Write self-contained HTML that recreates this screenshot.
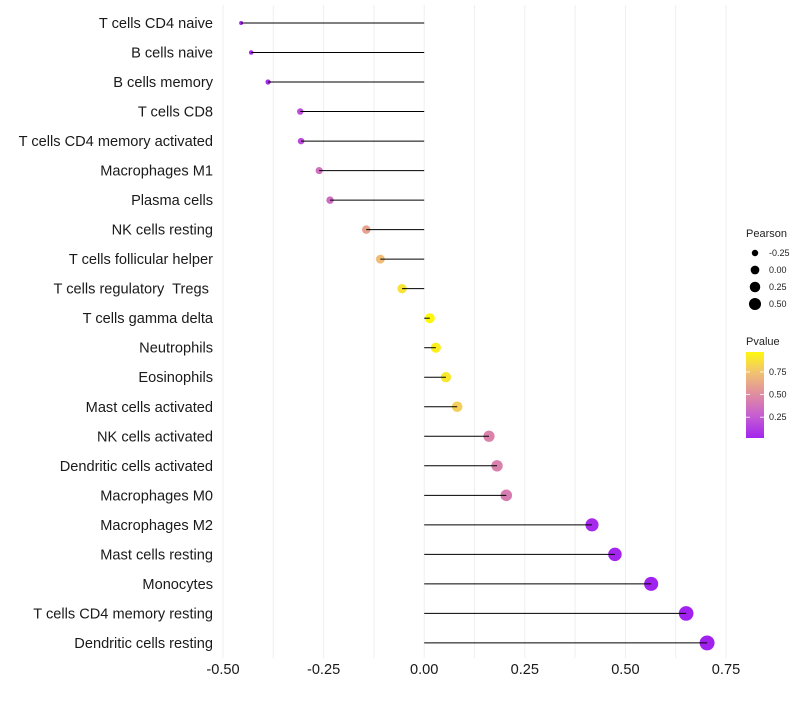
<!DOCTYPE html>
<html><head><meta charset="utf-8"><style>
body{margin:0;background:#fff;font-family:"Liberation Sans",sans-serif}
text{white-space:pre}
</style></head><body>
<svg id="chart" width="800" height="700" xmlns="http://www.w3.org/2000/svg" font-family="Liberation Sans, sans-serif">
<g id="grid"></g>
<g id="ylabels"></g>
<g id="dots"></g>
<g id="segs"></g>
<g id="xlabels"></g>
<g id="legend"></g>
</svg>
<script>
const categories=["T cells CD4 naive","B cells naive","B cells memory","T cells CD8","T cells CD4 memory activated","Macrophages M1","Plasma cells","NK cells resting","T cells follicular helper","T cells regulatory  Tregs ","T cells gamma delta","Neutrophils","Eosinophils","Mast cells activated","NK cells activated","Dendritic cells activated","Macrophages M0","Macrophages M2","Mast cells resting","Monocytes","T cells CD4 memory resting","Dendritic cells resting"];
const pearson=[-0.455,-0.43,-0.388,-0.308,-0.306,-0.261,-0.234,-0.144,-0.109,-0.055,0.014,0.029,0.054,0.082,0.161,0.181,0.204,0.417,0.474,0.564,0.651,0.703];
const pvalue=[0.03,0.04,0.06,0.2,0.19,0.36,0.34,0.6,0.72,0.88,0.97,0.93,0.9,0.8,0.45,0.44,0.42,0.04,0.02,0.01,0.01,0.01];
const xTicks=[-0.5,-0.25,0,0.25,0.5,0.75];
const xTickLabels=["-0.50","-0.25","0.00","0.25","0.50","0.75"];
const sizeLegend=[-0.25,0,0.25,0.5];
const sizeLegendLabels=["-0.25","0.00","0.25","0.50"];
const colorTicks=[0.25,0.5,0.75];
const colorTickLabels=["0.25","0.50","0.75"];

const NS="http://www.w3.org/2000/svg";
const x=v=>424.2+v*402.4;
const y=i=>23+i*29.52;
const r=v=>Math.sqrt(Math.max(1,24.4+44.9*v));
const stops=[[0,[160,32,240]],[0.25,[196,90,212]],[0.5,[224,140,160]],[0.75,[241,196,112]],[1,[255,255,0]]];
function col(p){for(let k=1;k<stops.length;k++){if(p<=stops[k][0]){const a=stops[k-1],b=stops[k],t=(p-a[0])/(b[0]-a[0]);return "rgb("+a[1].map((c,j)=>Math.round(c+(b[1][j]-c)*t)).join(",")+")";}}return "rgb(255,255,0)";}
function mk(tag,attrs,parent){const e=document.createElementNS(NS,tag);for(const k in attrs)e.setAttribute(k,attrs[k]);parent.appendChild(e);return e;}
const grid=document.getElementById('grid'),yl=document.getElementById('ylabels'),dots=document.getElementById('dots'),segs=document.getElementById('segs'),xl=document.getElementById('xlabels'),lg=document.getElementById('legend');
for(let v=-0.5;v<=0.751;v+=0.125){const l=mk('line',{x1:x(v),x2:x(v),y1:5,y2:658,stroke:'#efefef','stroke-width':1},grid);

}
categories.forEach((c,i)=>{
 const t=mk('text',{x:213,y:y(i)+5,'text-anchor':'end','font-size':14.6,fill:'#1a1a1a'},yl);t.textContent=c;
 
 
 const d=mk('circle',{cx:x(pearson[i]),cy:y(i),r:r(pearson[i]),fill:col(pvalue[i])},dots);
 
 
 const s=mk('line',{x1:x(0),x2:x(pearson[i]),y1:y(i),y2:y(i),stroke:'#000','stroke-width':1},segs);
 
 
});
xTicks.forEach((v,i)=>{const t=mk('text',{x:x(v),y:674,'text-anchor':'middle','font-size':14.6,fill:'#1a1a1a'},xl);t.textContent=xTickLabels[i];

});
let t=mk('text',{x:746,y:237,'font-size':11,fill:'#222'},lg);t.textContent="Pearson";


sizeLegend.forEach((v,i)=>{const cy=253+i*17;
 const c=mk('circle',{cx:755,cy:cy,r:r(v)*0.88,fill:'#000'},lg);
 
 
 const tt=mk('text',{x:769,y:cy+3,'font-size':9,fill:'#222'},lg);tt.textContent=sizeLegendLabels[i];
 
 });
t=mk('text',{x:746,y:345,'font-size':11,fill:'#222'},lg);t.textContent="Pvalue";


const defs=mk('defs',{},lg);const gr=mk('linearGradient',{id:'pg',x1:0,y1:1,x2:0,y2:0},defs);
for(let k=0;k<=20;k++){const p=0.02+k/20*0.95;mk('stop',{offset:k/20,'stop-color':col(p)},gr);}
const cb=mk('rect',{x:746,y:352,width:18,height:86,fill:'url(#pg)'},lg);


const cy=p=>352+86*(0.97-p)/0.95;
colorTicks.forEach((p,i)=>{mk('line',{x1:746,x2:750,y1:cy(p),y2:cy(p),stroke:'#fff','stroke-width':0.8},lg);mk('line',{x1:760,x2:764,y1:cy(p),y2:cy(p),stroke:'#fff','stroke-width':0.8},lg);
 const tt=mk('text',{x:769,y:cy(p)+3,'font-size':9,fill:'#222'},lg);tt.textContent=colorTickLabels[i];
 
 });
</script>
</body></html>
